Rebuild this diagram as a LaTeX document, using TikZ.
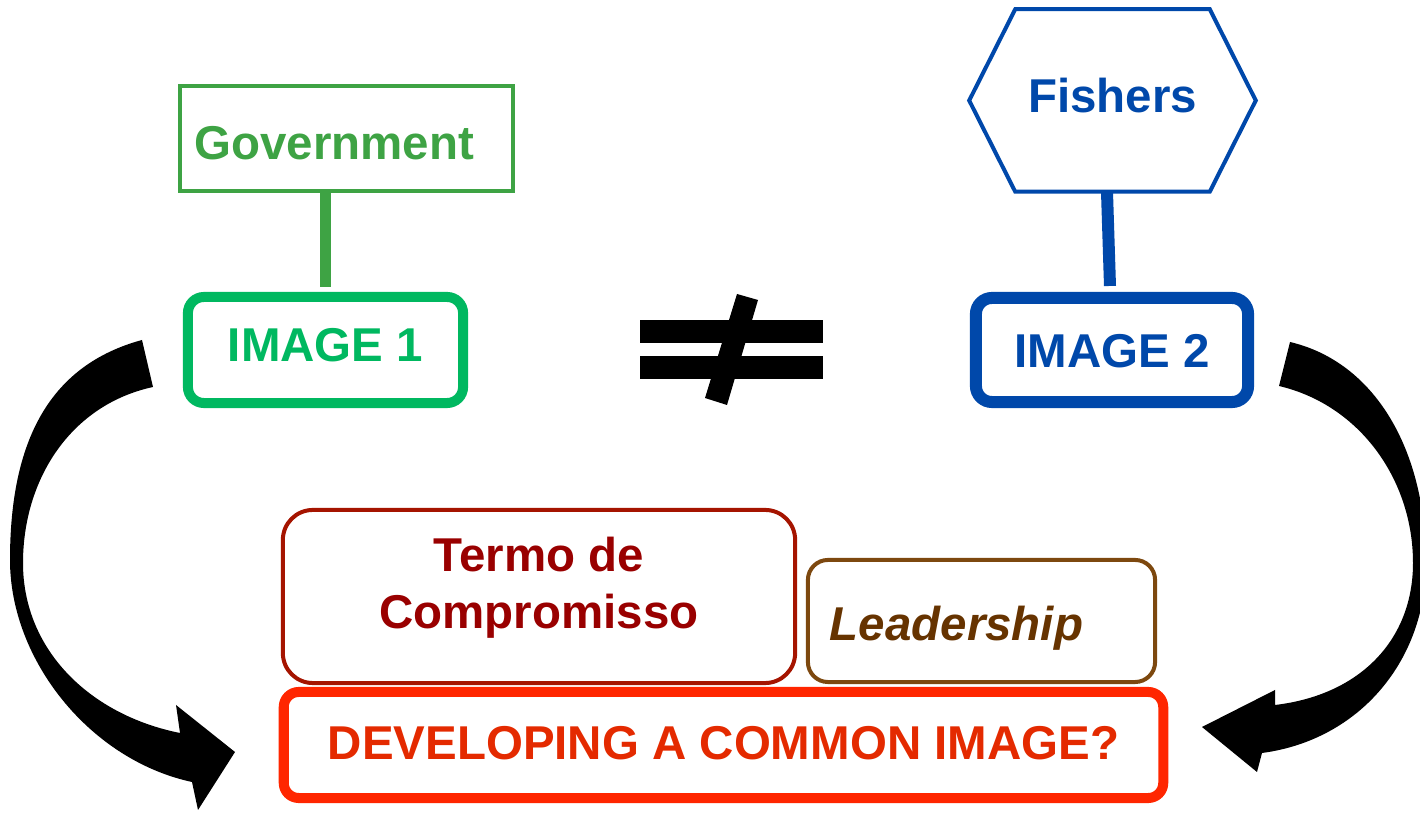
\documentclass[tikz,border=0pt]{standalone}
\usepackage{fontspec}
\setmainfont{Liberation Sans}

\definecolor{govgreen}{RGB}{62,163,68}
\definecolor{imggreen}{RGB}{0,184,96}
\definecolor{fishblue}{RGB}{0,72,170}
\definecolor{termored}{RGB}{165,20,0}
\definecolor{termotext}{RGB}{153,0,0}
\definecolor{leadbrown}{RGB}{125,72,15}
\definecolor{leadtext}{RGB}{102,51,0}
\definecolor{devred}{RGB}{255,38,0}
\definecolor{devtext}{RGB}{228,42,0}

\tikzset{
    boxfont/.style={font=\fontsize{13.5}{16.2}\selectfont\bfseries},
    raised/.style={text height=10.1pt, text depth=3.4pt},
    centred/.style={text height=9.9pt, text depth=0pt},
    imagebox/.style={boxfont, raised, draw, fill=white, rounded corners=0.16cm, line width=0.1cm, inner sep=0pt},
}

\begin{document}
\begin{tikzpicture}[x=0.01cm, y=-0.01cm]

    \useasboundingbox (0,0) rectangle (1420,813);

    % actors
    \node[boxfont, text height=12pt, text depth=0pt, draw=govgreen, text=govgreen, line width=0.04cm, minimum width=3.32cm, minimum height=1.04cm, text width=3.04cm, inner xsep=0.14cm, align=left] (gov) at (346.5,138.5) {Government};
    \node[boxfont, raised, text=fishblue, minimum width=2.85cm, minimum height=1.81cm, inner sep=0pt] (fish) at (1112.5,100.5) {Fishers};
    \draw[fishblue, line width=0.04cm] (fish.west) -- ([xshift=0.46cm]fish.north west) -- ([xshift=-0.46cm]fish.north east) -- (fish.east) -- ([xshift=-0.46cm]fish.south east) -- ([xshift=0.46cm]fish.south west) -- cycle;

    % images
    \node[imagebox, draw=imggreen, text=imggreen, minimum width=2.75cm, minimum height=1.06cm] (img1) at (325.5,350) {IMAGE 1};
    \node[imagebox, centred, draw=fishblue, text=fishblue, line width=0.12cm, minimum width=2.72cm, minimum height=1.04cm] (img2) at (1112,350) {IMAGE 2};

    \draw[govgreen, line width=0.1cm] (gov.south -| img1.north) -- ([yshift=0.05cm]img1.north);
    \draw[fishblue, line width=0.12cm] ([xshift=-0.055cm]fish.south) -- ([xshift=-0.02cm, yshift=0.06cm]img2.north);

    % not equal
    \fill[black] (640,320) rectangle (823,343);
    \fill[black] (640,356) rectangle (823,379);
    \fill[black] (737,294) -- (758,300) -- (727,405) -- (705,398) -- cycle;

    % common ground
    \node[boxfont, draw=termored, text=termotext, line width=0.04cm, rounded corners=0.3cm, minimum width=5.12cm, minimum height=1.73cm, align=center, text depth=0.27cm] (termo) at (539,596.5) {Termo de\\Compromisso};
    \node[boxfont, text height=11pt, text depth=0pt, font=\fontsize{13.5}{16.2}\selectfont\bfseries\itshape, draw=leadbrown, text=leadtext, line width=0.04cm, rounded corners=0.2cm, minimum width=3.47cm, minimum height=1.22cm, text width=3.03cm, inner xsep=0.22cm, align=left] (lead) at (981.5,621) {Leadership};
    \node[boxfont, text height=9.9pt, text depth=1.8pt, draw=devred, text=devtext, line width=0.1cm, rounded corners=0.15cm, minimum width=8.79cm, minimum height=1.06cm, inner sep=0pt] (dev) at (723.5,745) {DEVELOPING A COMMON IMAGE?};

    % curved arrows
    \fill[black] (142,340) -- (153,387)
        .. controls (70,405) and (23,480) .. (23,563)
        .. controls (23,650) and (90,715) .. (180,733)
        -- (176,705) -- (235,752) -- (198,810) -- (192,782)
        .. controls (90,760) and (10,660) .. (10,560)
        .. controls (10,440) and (50,365) .. (142,340) -- cycle;
    \fill[black] (1290,342) -- (1279,386)
        .. controls (1360,405) and (1413,480) .. (1413,563)
        .. controls (1413,640) and (1360,695) .. (1275,705)
        -- (1275,690) -- (1202,727) -- (1257,772) -- (1262,753)
        .. controls (1360,740) and (1426,660) .. (1426,563)
        .. controls (1426,450) and (1375,362) .. (1290,342) -- cycle;

\end{tikzpicture}
\end{document}
